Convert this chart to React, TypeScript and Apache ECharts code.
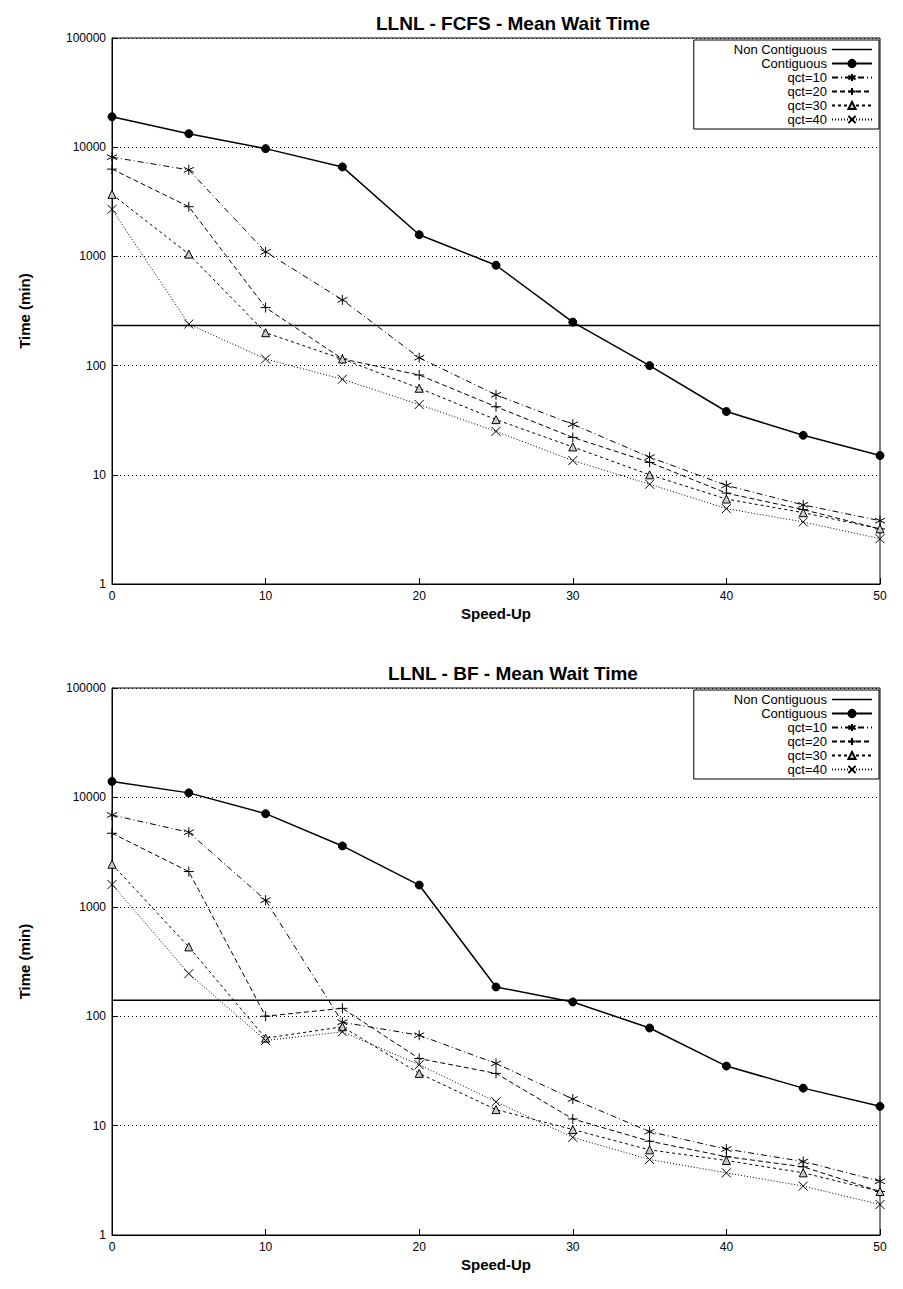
import React, { useEffect, useRef } from "react";
import * as echarts from "echarts";

const xs = [0, 5, 10, 15, 20, 25, 30, 35, 40, 45, 50];
const names = ["Non Contiguous", "Contiguous", "qct=10", "qct=20", "qct=30", "qct=40"];

const fcfsNonContig = 233;
const fcfsContig = [19000, 13300, 9700, 6600, 1580, 830, 250, 100, 38, 23, 15];
const fcfsQ10 = [8100, 6200, 1100, 400, 118, 54, 29, 14.5, 8, 5.3, 3.8];
const fcfsQ20 = [6300, 2850, 340, 115, 82, 42, 22, 13, 6.8, 4.8, 3.2];
const fcfsQ30 = [3700, 1050, 200, 115, 62, 32, 18, 10, 6, 4.5, 3.2];
const fcfsQ40 = [2700, 240, 115, 75, 44, 25, 13.5, 8.2, 4.9, 3.7, 2.6];

const bfNonContig = 140;
const bfContig = [14000, 11000, 7100, 3600, 1580, 185, 135, 78, 35, 22, 15];
const bfQ10 = [6900, 4800, 1150, 88, 67, 37, 17.5, 8.8, 6.1, 4.7, 3.1];
const bfQ20 = [4700, 2100, 100, 118, 41, 30, 11.5, 7.2, 5.2, 4.2, 2.5];
const bfQ30 = [2450, 430, 63, 80, 30, 14, 9.2, 6, 4.8, 3.7, 2.5];
const bfQ40 = [1600, 245, 60, 72, 36, 16.5, 7.8, 4.9, 3.7, 2.8, 1.9];

const FONT = "'Liberation Sans', Arial, sans-serif";

const styles: any[] = [
  { symbol: "none", type: "solid", width: 1.5 },
  { symbol: "circle", size: 8, type: "solid", width: 1.5, fill: "#000" },
  { symbol: "path://M0,-5L0,5M-4.3,-2.5L4.3,2.5M-4.3,2.5L4.3,-2.5", size: 10, type: [6, 3, 1, 3], width: 1 },
  { symbol: "path://M0,-5L0,5M-5,0L5,0", size: 10, type: [5, 3], width: 1 },
  { symbol: "triangle", size: 8, type: [3, 3], width: 1, fill: "#ccc" },
  { symbol: "path://M-4,-4L4,4M-4,4L4,-4", size: 9, type: [1, 2], width: 1 },
];

function seriesFor(gi: number, nc: number, arrs: number[][]) {
  const out: any[] = [];
  const all = [xs.map(() => nc), ...arrs];
  all.forEach((arr, i) => {
    const s = styles[i];
    out.push({
      type: "line",
      name: names[i],
      xAxisIndex: gi,
      yAxisIndex: gi,
      data: xs.map((x, k) => [x, arr[k]]),
      symbol: s.symbol,
      symbolSize: s.size,
      showSymbol: s.symbol !== "none",
      itemStyle: { color: s.fill || "#000", borderColor: "#000", borderWidth: 1 },
      lineStyle: { color: "#000", width: s.width, type: s.type },
      z: i === 0 ? 1 : 2,
    });
  });
  return out;
}

export default function App() {
  const ref = useRef<HTMLDivElement>(null);
  useEffect(() => {
    const chart = echarts.init(ref.current!, null, { renderer: "svg" });
    const grids = [
      { left: 104, right: 15, top: 30, height: 546 },
      { left: 104, right: 15, top: 680, height: 547 },
    ];
    const mkX = (gi: number) => ({
      type: "value", gridIndex: gi, min: 0, max: 50, interval: 10,
      name: "Speed-Up", nameLocation: "middle", nameGap: 22,
      nameTextStyle: { fontFamily: FONT, fontWeight: "bold", fontSize: 15, color: "#000" },
      axisLine: { show: true, onZero: false, lineStyle: { color: "#000" } },
      axisTick: { inside: true, length: 6, lineStyle: { color: "#000" } },
      axisLabel: { fontFamily: FONT, fontSize: 12, color: "#000", margin: 6 },
      splitLine: { show: false },
    });
    const mkY = (gi: number) => ({
      type: "log", logBase: 10, gridIndex: gi, min: 1, max: 100000,
      name: "Time (min)", nameLocation: "middle", nameGap: 80, nameRotate: 90,
      nameTextStyle: { fontFamily: FONT, fontWeight: "bold", fontSize: 15, color: "#000" },
      axisLine: { show: true, lineStyle: { color: "#000" } },
      axisTick: { inside: true, length: 6, lineStyle: { color: "#000" } },
      minorTick: { show: false },
      axisLabel: { fontFamily: FONT, fontSize: 12, color: "#000", margin: 6, formatter: (v: number) => String(Math.round(v)) },
      splitLine: { show: true, lineStyle: { color: "#000", type: [1, 3], width: 1 } },
    });
    const legendData = names.map((n, i) => i === 0 ? { name: n, itemStyle: { opacity: 0 }, lineStyle: { opacity: 1, color: "#000", width: 1.5 } } : { name: n });
    const mkLegend = (top: number) => ({
      top, right: 16, orient: "vertical", align: "right",
      data: legendData, itemWidth: 40, itemHeight: 9, itemGap: 1,
      padding: [3, 6, 3, 40],
      borderColor: "#000", borderWidth: 1, backgroundColor: "#fff",
      textStyle: { fontFamily: FONT, fontSize: 13, color: "#000" },
      selectedMode: false,
    });
    chart.setOption({
      animation: false,
      backgroundColor: "#fff",
      title: [
        { text: "LLNL - FCFS - Mean Wait Time", left: 500, textAlign: "center", top: 1,
          textStyle: { fontFamily: FONT, fontWeight: "bold", fontSize: 19, color: "#000" } },
        { text: "LLNL - BF - Mean Wait Time", left: 500, textAlign: "center", top: 651,
          textStyle: { fontFamily: FONT, fontWeight: "bold", fontSize: 19, color: "#000" } },
      ],
      grid: grids.map((g) => ({ ...g, show: true, borderColor: "#000", borderWidth: 1, backgroundColor: "transparent" })),
      xAxis: [mkX(0), mkX(1)],
      yAxis: [mkY(0), mkY(1)],
      legend: [mkLegend(32), mkLegend(682)],
      series: [
        ...seriesFor(0, fcfsNonContig, [fcfsContig, fcfsQ10, fcfsQ20, fcfsQ30, fcfsQ40]),
        ...seriesFor(1, bfNonContig, [bfContig, bfQ10, bfQ20, bfQ30, bfQ40]),
      ],
    });
    return () => chart.dispose();
  }, []);
  return <div ref={ref} style={{ width: 887, height: 1273 }} />;
}
